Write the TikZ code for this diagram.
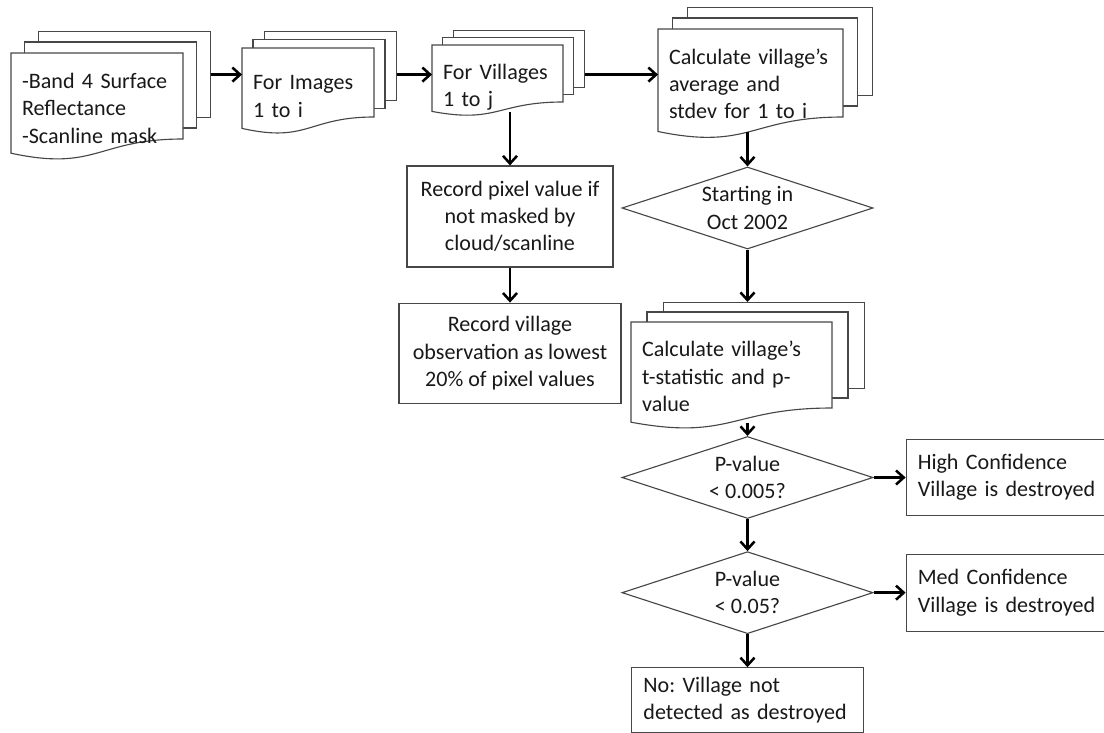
\documentclass[tikz,border=0pt]{standalone}
\usepackage{fontspec}
\setmainfont{Carlito}
\usetikzlibrary{shapes.geometric, arrows.meta, positioning}

% stack of three pages: name, x, y, width, height of straight part, dx, dy, text, text drop
\newcommand{\docstack}[9]{%
  \node (#1-back) [pagebox, anchor=north west, minimum width={#4*0.025cm}, minimum height={#5*0.025cm}] at (#2+2*#6, #3-2*#7) {};
  \draw [pagebox] (#2+#6, #3-#7) rectangle ++(#4, #5);
  \draw [pagebox] (#2, #3) -- ++(#4, 0) -- ++(0, #5)
    .. controls (#2+0.5*#4, #3+#5) and (#2+0.5*#4, #3+1.381*#5) .. (#2, #3+1.165*#5) -- cycle;
  \node (#1) [rectangle, inner sep=0pt, anchor=north west, minimum width={#4*0.025cm}, minimum height={1.165*#5*0.025cm}] at (#2, #3) {};
  \node (#1-text) [doctext, anchor=west, text width={(#4-22)*0.025cm}] at ([yshift={-#9*0.025cm}]#1.west) {#8};
}

\begin{document}
\frenchspacing
\begin{tikzpicture}[x=0.025cm, y=-0.025cm]
        \tikzstyle{pagebox} = [rectangle, draw=black!72, fill=white, line width=0.8pt, inner sep=0pt]
        \tikzstyle{doctext} = [rectangle, inner xsep=0.27cm, inner ysep=0pt, align=left, text=black!90, font=\fontsize{15.7}{19.3}\selectfont]
        \tikzstyle{process} = [rectangle, draw=black!72, fill=white, line width=0.8pt, align=center, text=black!90, font=\fontsize{15.7}{19.3}\selectfont]
        \tikzstyle{result} = [process, align=left, inner xsep=0.29cm]
        \tikzstyle{decision} = [diamond, aspect=3, inner sep=0pt, minimum width=6.275cm, minimum height=2.05cm, draw=black!72, fill=white, line width=0.8pt, align=center, text=black!90, font=\fontsize{15.7}{19.3}\selectfont]
        \tikzstyle{arrow} = [line width=1.8pt, -{Straight Barb[length=5.5pt, width=10pt]}]

        \useasboundingbox (0,0) rectangle (1104,732);

        \docstack{bands}{11}{53}{172}{86}{13.5}{11}{-Band 4 Surface\\Reflectance\\-Scanline mask}{5}
        \docstack{images}{242}{48}{132}{69}{11}{8.5}{For Images\\1 to i}{8}
        \docstack{villages}{432}{45}{131}{57}{10.5}{7.5}{For Villages\\1 to j}{9}
        \docstack{stats}{658}{29}{185}{88}{14.5}{11}{Calculate village’s\\average and\\stdev for 1 to i}{3}
        \docstack{tstat}{631}{322}{201}{86}{16}{10}{Calculate village’s\\t-statistic and p-\\value}{4}

        \node (pixel) [process, minimum width=5.15cm, minimum height=2.525cm] at (510,216.5) {Record pixel value if\\not masked by\\cloud/scanline};
        \node (lowest) [process, minimum width=5.55cm, minimum height=2.5cm, below=0.875cm of pixel] {Record village\\observation as lowest\\20\% of pixel values};
        \node (start) [decision] at (747.5,208) {Starting in\\Oct 2002};
        \node (pv1) [decision] at (747.5,477.5) {P-value\\< 0.005?};
        \node (pv2) [decision, below=0.8cm of pv1] {P-value\\< 0.05?};
        \node (high) [result, text width=6cm, minimum height=1.9cm, right=0.8cm of pv1] {High Confidence\\Village is destroyed};
        \node (med) [result, text width=6cm, minimum height=1.925cm, right=0.8cm of pv2] {Med Confidence\\Village is destroyed};
        \node (notdet) [result, text width=5.2cm, minimum height=1.625cm, below=0.825cm of pv2] {No: Village not\\detected as destroyed};

        \draw [arrow] (bands-back.east) -- (bands-back.east -| images.west);
        \draw [arrow] (images-back.east |- bands-back.east) -- (bands-back.east -| villages.west);
        \draw [arrow] (villages-back.east |- bands-back.east) -- (bands-back.east -| stats.west);
        \draw [arrow] (pixel.north |- villages.south) -- (pixel.north);
        \draw [arrow] (pixel.south) -- (lowest.north);
        \draw [arrow] (start.north |- stats.south) -- (start.north);
        \draw [arrow] (start.south) -- (start.south |- tstat-back.north);
        \draw [arrow] (pv1.north |- tstat.south) -- (pv1.north);
        \draw [arrow] (pv1.south) -- (pv2.north);
        \draw [arrow] (pv1.east) -- (high.west);
        \draw [arrow] (pv2.east) -- (med.west);
        \draw [arrow] (pv2.south) -- (notdet.north);
    \end{tikzpicture}
\end{document}
